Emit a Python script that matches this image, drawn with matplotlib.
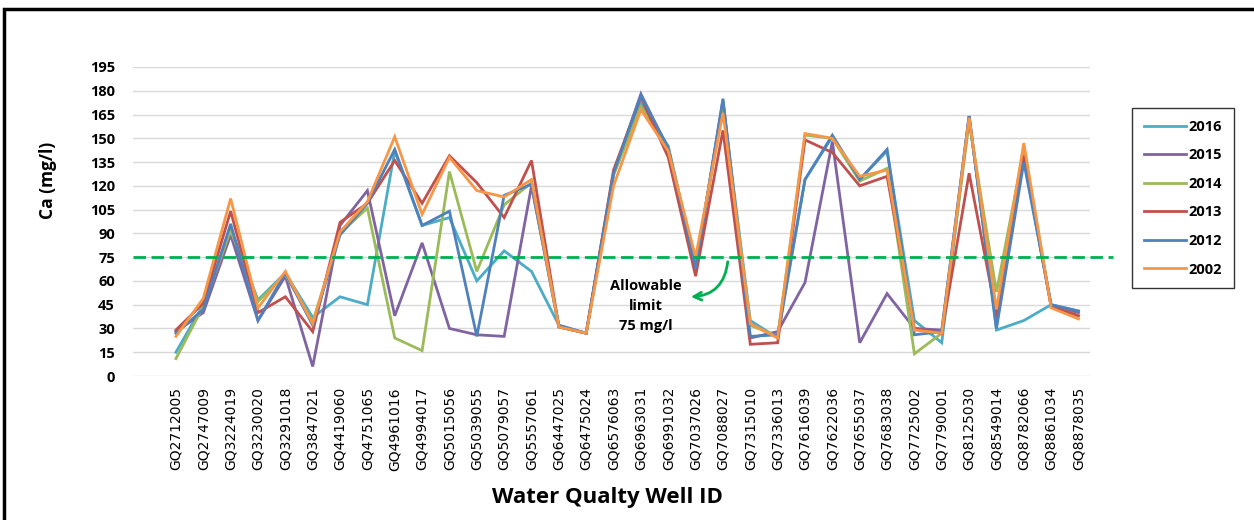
import numpy as np
import matplotlib
matplotlib.use('Agg')
import matplotlib.pyplot as plt
from matplotlib.patches import Rectangle

wells = ['GQ2712005', 'GQ2747009', 'GQ3224019', 'GQ3230020', 'GQ3291018', 'GQ3847021',
         'GQ4419060', 'GQ4751065', 'GQ4961016', 'GQ4994017', 'GQ5015056', 'GQ5039055',
         'GQ5079057', 'GQ5557061', 'GQ6447025', 'GQ6475024', 'GQ6576063', 'GQ6963031',
         'GQ6991032', 'GQ7037026', 'GQ7088027', 'GQ7315010', 'GQ7336013', 'GQ7616039',
         'GQ7622036', 'GQ7655037', 'GQ7683038', 'GQ7725002', 'GQ7790001', 'GQ8125030',
         'GQ8549014', 'GQ8782066', 'GQ8861034', 'GQ8878035']

ca_2016 = [15, 45, 93, 48, 65, 37, 50, 45, 142, 95, 100, 60, 79, 66, 32, 27, 127, 172,
           145, 70, 172, 35, 24, 124, 151, 124, 142, 35, 21, 164, 29, 35, 45, 41]
ca_2015 = [28, 40, 89, 35, 63, 6, 95, 117, 38, 84, 30, 26, 25, 120, 31, 27, 128, 178,
           143, 68, 174, 24, 28, 59, 148, 21, 52, 30, 29, 164, 32, 138, 44, 40]
ca_2014 = [11, 44, 92, 47, 64, 34, 90, 106, 24, 16, 129, 66, 108, 122, 31, 27, 127, 170,
           144, 70, 170, 32, 25, 152, 150, 123, 131, 14, 27, 160, 53, 143, 44, 38]
ca_2013 = [29, 46, 104, 40, 50, 28, 97, 109, 136, 109, 139, 122, 100, 136, 31, 27, 130, 176,
           138, 63, 155, 20, 21, 149, 141, 120, 126, 30, 27, 128, 38, 139, 44, 38]
ca_2012 = [27, 42, 96, 35, 65, 32, 89, 109, 143, 95, 104, 25, 114, 121, 32, 27, 128, 177,
           144, 68, 175, 25, 26, 124, 152, 124, 143, 26, 28, 164, 30, 135, 45, 41]
ca_2002 = [25, 49, 112, 43, 66, 33, 91, 110, 151, 102, 138, 117, 113, 124, 31, 27, 120, 168,
           142, 75, 166, 33, 24, 153, 150, 126, 130, 29, 27, 163, 42, 147, 43, 36]

years = ['2016', '2015', '2014', '2013', '2012', '2002']
series = [ca_2016, ca_2015, ca_2014, ca_2013, ca_2012, ca_2002]
colors = ['#4BACC6', '#8064A2', '#9BBB59', '#C0504D', '#4F81BD', '#F79646']
limit = 75
yticks = np.arange(0, 196, 15)

fig = plt.figure(figsize=(12.54, 5.2), dpi=100)
ax = fig.add_axes([133/1254, 1 - 376/520, (1090 - 133)/1254, (376 - 67)/520])

x = np.arange(len(wells))
for vals, c, yr in zip(series, colors, years):
    ax.plot(x, vals, color=c, lw=2.0, label=yr, solid_joinstyle='miter')

ax.set_ylim(0, 195)
ax.set_xlim(-1.57, len(wells) - 1 + 0.42)
ax.set_yticks(yticks)
ax.set_xticks(x)
ax.set_xticklabels(wells, rotation=90, fontsize=10, family='DejaVu Sans', va='top')
ax.tick_params(axis='x', length=0, pad=8)
ax.tick_params(axis='y', length=0, pad=13)
for t in ax.get_yticklabels():
    t.set_fontfamily('Open Sans')
    t.set_fontweight('bold')
    t.set_fontsize(10.5)
ax.grid(axis='y', color='#D9D9D9', lw=1)
ax.set_axisbelow(True)
for s in ax.spines.values():
    s.set_visible(False)

# allowable limit line (extends a little past the plot area)
ax.plot([0, 1.024], [limit, limit], transform=ax.get_yaxis_transform(), clip_on=False,
        color='#00B050', lw=2.0, dashes=(4.5, 2), zorder=5)

ax.annotate('', xy=(688/1254, 1 - 297/520), xytext=(728/1254, 1 - 259/520),
            xycoords='figure fraction', textcoords='figure fraction',
            arrowprops=dict(arrowstyle='->', color='#00B050', lw=2,
                            connectionstyle='arc3,rad=-0.45', mutation_scale=14))
fig.text(646/1254, 1 - 306/520, 'Allowable\nlimit\n75 mg/l', ha='center', va='center',
         fontsize=10.5, fontweight='bold', family='Open Sans', linespacing=1.55)

fig.text(48/1254, 1 - 180/520, 'Ca (mg/l)', rotation=90, ha='center', va='center',
         fontsize=12.5, fontweight='bold', family='Open Sans')
fig.text(607/1254, 1 - 497/520, 'Water Qualty Well ID', ha='center', va='center',
         fontsize=16, fontweight='bold', family='Open Sans')

leg = fig.legend(loc='upper left', bbox_to_anchor=(1132/1254, 1 - 108/520),
                 borderaxespad=0, frameon=True, fancybox=False, edgecolor='black',
                 handlelength=2.9, handletextpad=0.2, labelspacing=1.0, borderpad=0.8,
                 prop={'family': 'Open Sans', 'weight': 'bold', 'size': 10.5})
leg.get_frame().set_linewidth(1.0)

# outer frame
fig.patches.append(Rectangle((4/1254, -0.2), 1.2, 1.2 - 9/520, fill=False,
                             lw=2.5, edgecolor='black', transform=fig.transFigure))

fig.savefig('out.png', dpi=100)
